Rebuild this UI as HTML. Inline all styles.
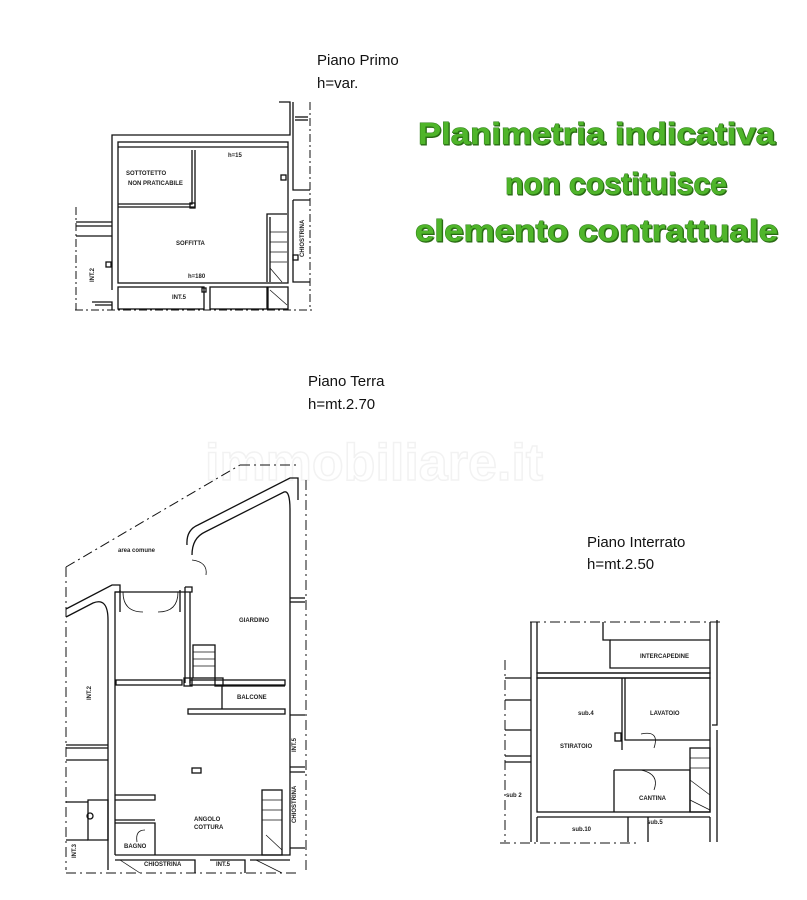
<!DOCTYPE html>
<html><head><meta charset="utf-8"><style>
html,body{margin:0;padding:0;background:#fff;}
svg{display:block;}
.t{font-family:"Liberation Sans",sans-serif;fill:#111;}
.s{font-family:"Liberation Sans",sans-serif;font-size:6px;font-weight:bold;fill:#222;}
.g{font-family:"Liberation Sans",sans-serif;font-weight:bold;font-size:31px;fill:#4fb52a;stroke:#2e7d18;stroke-width:0.9px;paint-order:stroke;}
</style></head><body>
<svg width="807" height="900" viewBox="0 0 807 900" xmlns="http://www.w3.org/2000/svg">
<rect width="807" height="900" fill="#fff"/>
<text x="205" y="480" font-family="Liberation Sans,sans-serif" font-size="52" font-weight="bold" fill="none" stroke="#f2f2f2" stroke-width="1.5">immobiliare.it</text>

<g style="filter:drop-shadow(1px 1px 0 #2a6a14)">
<text class="g" x="418" y="144" textLength="357" lengthAdjust="spacingAndGlyphs">Planimetria indicativa</text>
<text class="g" x="505" y="194" textLength="222" lengthAdjust="spacingAndGlyphs">non costituisce</text>
<text class="g" x="415" y="241" textLength="363" lengthAdjust="spacingAndGlyphs">elemento contrattuale</text>
</g>

<text class="t" x="317" y="65" font-size="15">Piano Primo</text>
<text class="t" x="317" y="88" font-size="15">h=var.</text>
<text class="t" x="308" y="386" font-size="15">Piano Terra</text>
<text class="t" x="308" y="409" font-size="15">h=mt.2.70</text>
<text class="t" x="587" y="547" font-size="15">Piano Interrato</text>
<text class="t" x="587" y="569" font-size="15">h=mt.2.50</text>

<g stroke="#111" fill="none" stroke-width="1.3">
<path d="M112 290 V135 H290 V102 H279"/>
<rect x="118" y="142" width="170" height="141"/>
<line x1="118" y1="147" x2="288" y2="147"/>
<path d="M118 207 H195 V150"/><path d="M192 150 V204 H118"/>
<rect x="190" y="203" width="5" height="5"/>
<rect x="281" y="175" width="5" height="5"/>
<path d="M267 282 V214 H287"/><path d="M270 282 V217"/>
<g stroke-width="0.7"><line x1="270" y1="232" x2="287" y2="232"/><line x1="270" y1="242" x2="287" y2="242"/><line x1="270" y1="252" x2="287" y2="252"/><line x1="270" y1="262" x2="287" y2="262"/><line x1="270" y1="268" x2="282" y2="282"/><line x1="270" y1="290" x2="287" y2="305"/></g>
<path d="M293 102 V190 H310"/><path d="M293 200 H310"/><path d="M293 200 V282 H310"/>
<path d="M295 117 H308"/><path d="M295 120 H308"/>
<rect x="293" y="255" width="5" height="5"/>
<rect x="118" y="287" width="86" height="22"/><rect x="210" y="287" width="57" height="22"/>
<rect x="268" y="287" width="20" height="22"/>
<rect x="202" y="288" width="4" height="4"/>
<path d="M76 222 H112 M76 226 H112 M76 236 H112"/>
<rect x="106" y="262" width="5" height="5"/>
<path d="M92 302 H112 V310 M95 305 H112"/>
<g stroke-dasharray="8 3 2 3" stroke-width="1"><line x1="76" y1="207" x2="76" y2="310"/><line x1="75" y1="310" x2="312" y2="310"/><line x1="310" y1="102" x2="310" y2="310"/></g>

<g stroke-dasharray="10 4 2 4" stroke-width="1">
<line x1="66" y1="567" x2="66" y2="870"/>
<line x1="66" y1="567" x2="240" y2="465"/>
<line x1="240" y1="465" x2="300" y2="465"/>
<line x1="306" y1="480" x2="306" y2="870"/>
<line x1="66" y1="873" x2="300" y2="873"/>
</g>
<path d="M66 617 L93 603 Q108 597 108 620 V870"/>
<path d="M66 609 L112 585 H120 V592 H115 V855"/>
<path d="M115 592 H192 V587 H185"/>
<path d="M120 590 V612 M180 590 V612"/>
<path d="M185 587 V683 M190 592 V683"/>
<path d="M187 545 Q186 530 198 525 L290 478 H298 V500"/>
<path d="M192 555 Q192 538 205 532 L284 492 Q290 490 290 510 V855 H115"/>
<path d="M123 592 Q123 612 143 612 M178 592 Q178 612 158 612" stroke-width="0.8"/>
<path d="M192 560 Q208 562 206 575" stroke-width="0.8"/>
<rect x="190" y="680" width="95" height="5"/>
<rect x="116" y="680" width="66" height="5"/>
<rect x="184" y="678" width="8" height="8"/>
<rect x="215" y="678" width="8" height="8"/>
<rect x="193" y="645" width="22" height="33"/>
<g stroke-width="0.7"><line x1="193" y1="652" x2="215" y2="652"/><line x1="193" y1="659" x2="215" y2="659"/><line x1="193" y1="666" x2="215" y2="666"/></g>
<rect x="188" y="709" width="97" height="5"/>
<path d="M222 686 H285 M222 709 V686"/>
<line x1="290" y1="598" x2="305" y2="598"/><line x1="290" y1="602" x2="305" y2="602"/>
<path d="M290 715 H305 M290 767 H305 M290 772 H305 M290 848 H305"/>
<path d="M66 745 H108 M66 748 H108 M66 760 H108"/>
<path d="M115 795 H155 V800 H115"/>
<path d="M115 820 H155 M115 823 H155 V855"/>
<path d="M88 800 H108 V840 H88 Z"/>
<circle cx="90" cy="816" r="3"/>
<path d="M66 802 H88 M66 840 H88"/>
<path d="M145 830 Q135 830 137 842" stroke-width="0.8"/>
<rect x="262" y="790" width="20" height="65"/>
<g stroke-width="0.7"><line x1="262" y1="800" x2="282" y2="800"/><line x1="262" y1="810" x2="282" y2="810"/><line x1="262" y1="820" x2="282" y2="820"/><line x1="266" y1="835" x2="282" y2="850"/><line x1="256" y1="860" x2="282" y2="873"/><line x1="120" y1="860" x2="140" y2="873"/></g>
<path d="M115 860 H195 V873 M210 860 H245 V873 M250 860 H290"/>
<rect x="192" y="768" width="9" height="5"/>

<g stroke-dasharray="10 4 2 4" stroke-width="1">
<line x1="505" y1="660" x2="505" y2="842"/>
<line x1="530" y1="622" x2="720" y2="622"/>
<line x1="500" y1="843" x2="640" y2="843"/>
</g>
<path d="M531 622 V842 M537 622 V673 H710 V622"/>
<path d="M603 622 V640 H610 V668 H710"/>
<path d="M610 640 H710"/>
<rect x="537" y="673" width="173" height="5"/>
<rect x="537" y="678" width="173" height="134"/>
<path d="M622 678 V750 M625 678 V740 H710"/>
<path d="M614 770 H690 V812 M614 770 V812"/>
<path d="M641 734 Q660 730 654 748" stroke-width="0.8"/>
<path d="M641 770 Q660 774 654 790" stroke-width="0.8"/>
<rect x="690" y="748" width="20" height="64"/>
<g stroke-width="0.7"><line x1="690" y1="758" x2="710" y2="758"/><line x1="690" y1="768" x2="710" y2="768"/><line x1="690" y1="780" x2="710" y2="795"/><line x1="690" y1="800" x2="710" y2="810"/></g>
<path d="M537 817 H710 M537 842 V817 M628 817 V842 M648 817 V842 M710 817 V842"/>
<path d="M505 678 H531 M505 700 H531 M505 730 H531 M505 756 H531 M505 762 H531"/>
<path d="M717 620 V725 H712 M717 730 V842"/>
<rect x="615" y="733" width="6" height="8"/>
</g>

<text class="s" x="126" y="175">SOTTOTETTO</text>
<text class="s" x="128" y="185">NON PRATICABILE</text>
<text class="s" x="228" y="157">h=15</text>
<text class="s" x="176" y="245">SOFFITTA</text>
<text class="s" x="188" y="278">h=180</text>
<text class="s" x="172" y="299">INT.5</text>
<text class="s" transform="translate(94,282) rotate(-90)">INT.2</text>
<text class="s" transform="translate(304,257) rotate(-90)">CHIOSTRINA</text>

<text class="s" x="118" y="552" font-weight="normal">area comune</text>
<text class="s" x="239" y="622">GIARDINO</text>
<text class="s" x="237" y="699">BALCONE</text>
<text class="s" transform="translate(91,700) rotate(-90)">INT.2</text>
<text class="s" transform="translate(296,752) rotate(-90)">INT.5</text>
<text class="s" transform="translate(296,823) rotate(-90)">CHIOSTRINA</text>
<text class="s" x="194" y="821">ANGOLO</text>
<text class="s" x="194" y="829">COTTURA</text>
<text class="s" x="124" y="848">BAGNO</text>
<text class="s" x="144" y="866">CHIOSTRINA</text>
<text class="s" x="216" y="866">INT.5</text>
<text class="s" transform="translate(76,858) rotate(-90)">INT.3</text>

<text class="s" x="640" y="658">INTERCAPEDINE</text>
<text class="s" x="578" y="715">sub.4</text>
<text class="s" x="650" y="715">LAVATOIO</text>
<text class="s" x="560" y="748">STIRATOIO</text>
<text class="s" x="639" y="800">CANTINA</text>
<text class="s" x="506" y="797">sub 2</text>
<text class="s" x="572" y="831">sub.10</text>
<text class="s" x="647" y="824">sub.5</text>
</svg>
</body></html>
